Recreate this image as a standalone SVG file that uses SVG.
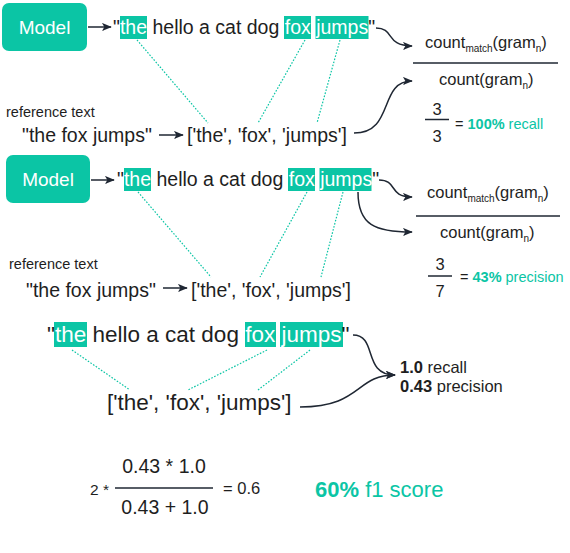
<svg xmlns="http://www.w3.org/2000/svg" width="570" height="553" viewBox="0 0 570 553">
<defs>
<style>
text{font-family:"Liberation Sans",Arial,sans-serif;fill:#1e1e1e}
.box{fill:#0bc5a5}
.boxt{fill:#fff;font-size:19px;text-anchor:middle}
.hl{fill:#0bc5a5}
.w{fill:#fff}
.t{fill:#0bc5a5}
.b{font-weight:bold}
.dot{stroke:#0bc5a5;stroke-width:1.2;stroke-dasharray:1.6 1.6;fill:none}
.arr{stroke:#1f2733;stroke-width:1.5;fill:none;marker-end:url(#ah)}
.fl{stroke:#1f2733;stroke-width:1.5}
</style>
<marker id="ah" viewBox="0 0 12 10" refX="11" refY="5" markerWidth="10" markerHeight="9" markerUnits="userSpaceOnUse" orient="auto">
<path d="M0,0 L12,5 L0,10 L3,5 z" fill="#1f2733"/>
</marker>
</defs>
<rect width="570" height="553" fill="#fff"/>

<g id="model1"><rect class="box" x="2" y="3" width="85" height="48" rx="7"/><text class="boxt" x="44.5" y="34">Model</text></g>
<g id="hyp1">
<rect class="hl" x="120" y="16" width="27" height="23"/><rect class="hl" x="284" y="16" width="27" height="23"/><rect class="hl" x="315.5" y="16" width="53" height="23"/>
<text x="113" y="34" font-size="19.5">"<tspan class="w">the</tspan> hello a cat dog <tspan class="w">fox</tspan> <tspan class="w">jumps</tspan>"</text>
</g>
<g id="ref1">
<text x="6" y="117" font-size="14.5">reference text</text>
<text x="22" y="142" font-size="19.5">"the fox jumps"</text>
<text x="187" y="142" font-size="19.5">['the', 'fox', 'jumps']</text>
</g>
<g id="formula1">
<text x="425" y="48" font-size="16.5">count<tspan font-size="10" dy="4">match</tspan><tspan dy="-4">(gram</tspan><tspan font-size="10" dy="4">n</tspan><tspan dy="-4">)</tspan></text>
<line class="fl" x1="413" y1="63" x2="558" y2="63"/>
<text x="439" y="85" font-size="16.5">count(gram<tspan font-size="10" dy="4">n</tspan><tspan dy="-4">)</tspan></text>
<text x="437" y="115" font-size="16.5" text-anchor="middle">3</text>
<line class="fl" x1="425" y1="119.5" x2="449" y2="119.5"/>
<text x="437" y="142" font-size="16.5" text-anchor="middle">3</text>
<text x="455" y="129" font-size="14.5">= <tspan class="t b">100%</tspan><tspan class="t"> recall</tspan></text>
</g>

<g id="model2"><rect class="box" x="6" y="155" width="84" height="48" rx="7"/><text class="boxt" x="48" y="186">Model</text></g>
<g id="hyp2">
<rect class="hl" x="124" y="168" width="27" height="23"/><rect class="hl" x="288" y="168" width="27" height="23"/><rect class="hl" x="319.5" y="168" width="52" height="23"/>
<text x="117" y="186" font-size="19.5">"<tspan class="w">the</tspan> hello a cat dog <tspan class="w">fox</tspan> <tspan class="w">jumps</tspan>"</text>
</g>
<g id="ref2">
<text x="9" y="269" font-size="14.5">reference text</text>
<text x="26" y="297" font-size="19.5">"the fox jumps"</text>
<text x="191" y="297" font-size="19.5">['the', 'fox', 'jumps']</text>
</g>
<g id="formula2">
<text x="427" y="198" font-size="16.5">count<tspan font-size="10" dy="4">match</tspan><tspan dy="-4">(gram</tspan><tspan font-size="10" dy="4">n</tspan><tspan dy="-4">)</tspan></text>
<line class="fl" x1="416" y1="216" x2="560" y2="216"/>
<text x="440" y="238" font-size="16.5">count(gram<tspan font-size="10" dy="4">n</tspan><tspan dy="-4">)</tspan></text>
<text x="440" y="270" font-size="16.5" text-anchor="middle">3</text>
<line class="fl" x1="428" y1="276" x2="452" y2="276"/>
<text x="440" y="297" font-size="16.5" text-anchor="middle">7</text>
<text x="460" y="282" font-size="14.5">= <tspan class="t b">43%</tspan><tspan class="t"> precision</tspan></text>
</g>

<g id="hyp3">
<rect class="hl" x="54" y="322" width="33" height="25"/><rect class="hl" x="245" y="322" width="31" height="25"/><rect class="hl" x="280" y="322" width="63" height="25"/>
<text x="47" y="342" font-size="22.5">"<tspan class="w">the</tspan> hello a cat dog <tspan class="w">fox</tspan> <tspan class="w">jumps</tspan>"</text>
</g>
<g id="ref3"><text x="107" y="410" font-size="22.5">['the', 'fox', 'jumps']</text></g>
<g id="result3">
<text x="400" y="373" font-size="16.5"><tspan class="b">1.0</tspan> recall</text>
<text x="400" y="392" font-size="16.5"><tspan class="b">0.43</tspan> precision</text>
</g>

<g id="f1">
<text x="90" y="495" font-size="15.5">2 *</text>
<text x="164" y="473" font-size="19.5" text-anchor="middle">0.43 * 1.0</text>
<line class="fl" x1="115" y1="488" x2="213" y2="488"/>
<text x="165" y="514" font-size="19.5" text-anchor="middle">0.43 + 1.0</text>
<text x="223" y="494" font-size="16.5">= 0.6</text>
<text x="315" y="497" font-size="22" class="t"><tspan class="b">60%</tspan> f1 score</text>
</g>

<g id="connectors">
<line class="arr" x1="88" y1="27" x2="111" y2="27"/>
<line class="arr" x1="159" y1="135" x2="183" y2="135"/>
<line class="arr" x1="91" y1="180" x2="114" y2="180"/>
<line class="arr" x1="163" y1="288" x2="187" y2="288"/>
<path class="dot" d="M137,40 L208,123 M305,40 L258,123 M340,40 L317,123"/>
<path class="dot" d="M138,192 L211,277 M307,192 L260,277 M343,192 L321,277"/>
<path class="dot" d="M72,350 L130,390 M267,350 L188,390 M310,350 L258,390"/>
<path class="arr" d="M376,28 C395,28 385,46 412,46"/>
<path class="arr" d="M354,133 C395,133 378,81 412,81"/>
<path class="arr" d="M379,180 C398,180 388,197 412,197"/>
<path class="arr" d="M358,192 C358,225 375,232 412,232"/>
<path class="arr" d="M353,335 C378,335 362,375 395,375"/>
<path class="arr" d="M300,407 C362,407 355,375 395,375"/>
</g>
</svg>
